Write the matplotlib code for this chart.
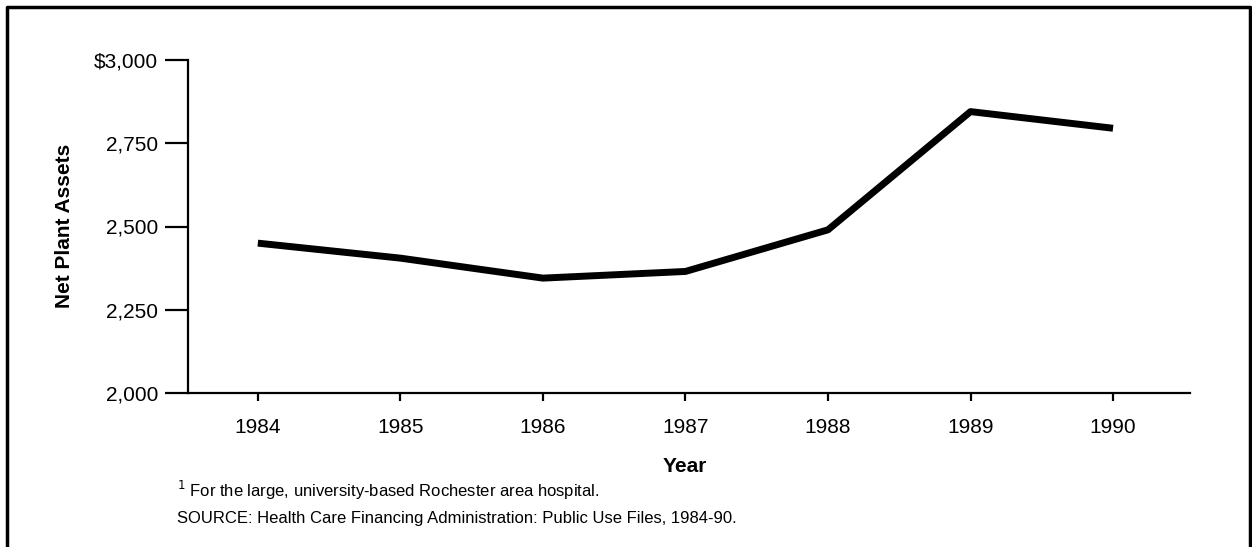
import matplotlib.pyplot as plt
from matplotlib.lines import Line2D

years = [1984, 1985, 1986, 1987, 1988, 1989, 1990]
assets = [2450, 2405, 2345, 2365, 2490, 2845, 2795]
ytick_vals = [2000, 2250, 2500, 2750, 3000]
ytick_labels = ['2,000', '2,250', '2,500', '2,750', '$3,000']

plt.rcParams['font.family'] = ['Liberation Sans', 'DejaVu Sans']

W, H = 1252, 547
fig = plt.figure(figsize=(W / 100, H / 100), dpi=100)
ax = fig.add_axes([188 / W, 1 - 393 / H, (1190 - 188) / W, (393 - 60) / H])

ax.plot(years, assets, color='black', lw=5, solid_joinstyle='round', solid_capstyle='butt')

ax.set_ylim(2000, 3000)
ax.set_xlim(1983.51, 1990.54)
ax.set_yticks(ytick_vals)
ax.set_yticklabels(ytick_labels, fontsize=15)
ax.set_xticks(years)
ax.set_xticklabels([str(y) for y in years], fontsize=15)
ax.tick_params(axis='y', direction='out', length=16.5, width=1.6, pad=5)
ax.tick_params(axis='x', direction='out', length=6, width=1.6, pad=12)

for side in ['top', 'right']:
    ax.spines[side].set_visible(False)
for side in ['left', 'bottom']:
    ax.spines[side].set_linewidth(1.6)

# axis titles
fig.text(65 / W, 1 - 226 / H, 'Net Plant Assets', rotation=90, fontsize=15,
         fontweight='bold', ha='center', va='center')
fig.text(685 / W, 1 - 467 / H, 'Year', fontsize=15, fontweight='bold',
         ha='center', va='center')

fig.text(177 / W, 1 - 490 / H, '$^1$ For the large, university-based Rochester area hospital.',
         fontsize=12, va='center', ha='left')
fig.text(177 / W, 1 - 519 / H,
         'SOURCE: Health Care Financing Administration: Public Use Files, 1984-90.',
         fontsize=12, va='center', ha='left')

# frame around the figure
fx = [7 / W, 7 / W, 1250 / W, 1250 / W]
fy = [0, 1 - 7 / H, 1 - 7 / H, 0]
fig.add_artist(Line2D(fx, fy, transform=fig.transFigure, color='black', lw=2.5))

fig.savefig('out.png', dpi=100)
